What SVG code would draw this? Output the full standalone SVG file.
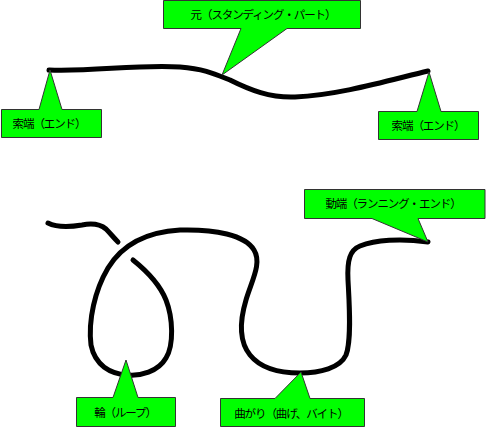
<svg xmlns="http://www.w3.org/2000/svg" width="486" height="427" viewBox="0 0 486 427">
<style>
.callout{fill:#00ff00;stroke:#333333;stroke-width:1;stroke-linejoin:miter}
.lbl{font-family:"Noto Sans CJK JP","Liberation Sans",sans-serif;font-size:11.5px;letter-spacing:-1.1px;fill:#000;text-anchor:middle}
.rope{fill:none;stroke:#000;stroke-width:5;stroke-linecap:round;stroke-linejoin:round}
</style>
<rect width="486" height="427" fill="#ffffff"/>
<g id="connectors">
<path class="rope" d="M49,70 C90,72 140,64 180,67 C205,69 215,74 230,80 C250,90 270,98 295,97 C340,95 390,80 428,71"/>
<path class="rope" d="M48,223 C58,228 70,227 82,225 C92,223 100,224 106,229 C110,233 114,238 118,242"/>
<path class="rope" d="M133,260 C148,272 160,285 166,300 C173,318 174,345 166,358 C158,372 140,376 128,375 C110,374 95,365 91,345 C88,320 95,290 108,268 C122,245 145,232 180,230 C215,229 245,235 254,250 C262,263 252,280 246,300 C240,320 238,340 250,355 C262,370 285,373 300,373 C320,373 340,368 346,355 C352,340 349,300 348,280 C347,260 350,250 360,246 C375,240 400,238 428,242"/>
</g>
<g id="standing-part">
<path class="callout" d="M163.5,0.5 H360.5 V28.5 H287 L222,75 L241,28.5 H163.5 Z"/>
<text class="lbl" x="263" y="19">元（スタンディング・パート）</text>
</g>
<g id="end-left">
<path class="callout" d="M1.5,109.5 H39 L50,70 L62,109.5 H101.5 V137.5 H1.5 Z"/>
<text class="lbl" x="49" y="127.5">索端（エンド）</text>
</g>
<g id="end-right">
<path class="callout" d="M378.5,111.5 H417 L429,72 L441,111.5 H478.5 V139.5 H378.5 Z"/>
<text class="lbl" x="428" y="129.5">索端（エンド）</text>
</g>
<g id="running-end">
<path class="callout" d="M304.5,189.5 H485 V218.5 H418 L428,242 L372,218.5 H304.5 Z"/>
<text class="lbl" x="393" y="208">動端（ランニング・エンド）</text>
</g>
<g id="loop">
<path class="callout" d="M76.5,397.5 H113 L126,360 L138,397.5 H175.5 V426.5 H76.5 Z"/>
<text class="lbl" x="125" y="416.5">輪（ループ）</text>
</g>
<g id="bight">
<path class="callout" d="M220.5,398.5 H275 L301,372 L310,398.5 H364.5 V426.5 H220.5 Z"/>
<text class="lbl" x="291" y="417.5">曲がり（曲げ、バイト）</text>
</g>
</svg>
